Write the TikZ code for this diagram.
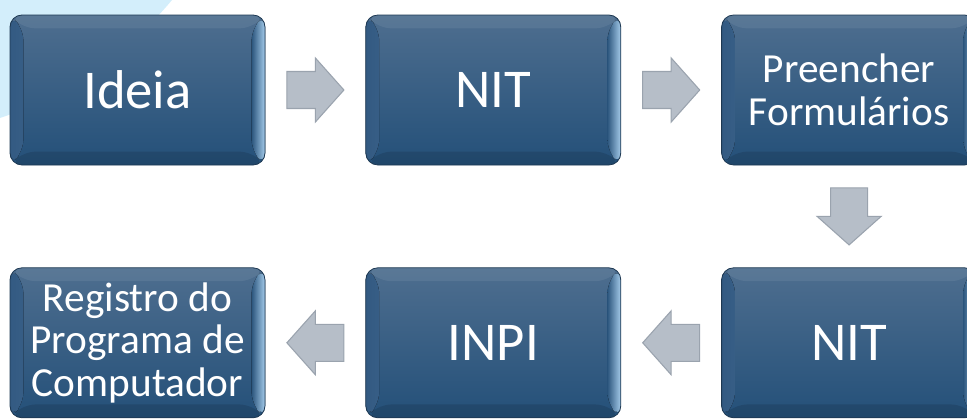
\documentclass[tikz,border=0pt]{standalone}
\usepackage{fontspec}
\setmainfont{Carlito}
\usetikzlibrary{positioning, calc}

\definecolor{boxtop}{HTML}{4E6E8F}
\definecolor{boxbot}{HTML}{245079}
\definecolor{boxline}{HTML}{1D3852}
\definecolor{bevdark}{HTML}{335A82}
\definecolor{bevmid}{HTML}{7DA3C8}
\definecolor{bevlight}{HTML}{A4CBEA}
\definecolor{arrowfill}{HTML}{B6BEC8}
\definecolor{arrowline}{HTML}{9AA3AE}
\definecolor{skyblob}{HTML}{D3EEFB}

\begin{document}
\begin{tikzpicture}[
    x=0.75pt, y=-0.75pt,
    stepbox/.style={rectangle, rounded corners=9pt, draw=boxline, line width=0.6pt,
                    top color=boxtop, bottom color=boxbot,
                    minimum width=191.25pt, minimum height=112.5pt, inner sep=0pt,
                    text=white, align=center, font=\fontsize{41}{44}\selectfont,
                    path picture={
                      \fill[left color=bevdark, right color=bevmid]
                        (path picture bounding box.north west)
                        -- ($(path picture bounding box.north west)+(10pt,-10pt)$)
                        -- ($(path picture bounding box.south west)+(10pt,10pt)$)
                        -- (path picture bounding box.south west) -- cycle;
                      \fill[left color=boxbot!80!boxtop, right color=bevlight]
                        (path picture bounding box.north east)
                        -- ($(path picture bounding box.north east)+(-10pt,-10pt)$)
                        -- ($(path picture bounding box.south east)+(-10pt,10pt)$)
                        -- (path picture bounding box.south east) -- cycle;
                      \fill[white, opacity=0.07]
                        (path picture bounding box.north west)
                        -- ($(path picture bounding box.north west)+(10pt,-10pt)$)
                        -- ($(path picture bounding box.north east)+(-10pt,-10pt)$)
                        -- (path picture bounding box.north east) -- cycle;
                      \fill[black, opacity=0.12]
                        (path picture bounding box.south west)
                        -- ($(path picture bounding box.south west)+(10pt,10pt)$)
                        -- ($(path picture bounding box.south east)+(-10pt,10pt)$)
                        -- (path picture bounding box.south east) -- cycle;
                    }},
    smalltext/.style={font=\fontsize{31}{32}\selectfont},
    node distance=76.5pt and 75pt,
    pics/flowarrow/.style={code={
        \draw[fill=arrowfill, draw=arrowline, line width=0.8pt, line join=miter]
          (-28.5,-18.5) -- (0,-18.5) -- (0,-32) -- (28.5,0) -- (0,32) -- (0,18.5)
          -- (-28.5,18.5) -- cycle;}}
]

\useasboundingbox (0,0) rectangle (967,418);

% Background
\fill[skyblob] (0,0) -- (172,0) .. controls (122,60) and (55,100) .. (0,118) -- cycle;

% Steps
\node[stepbox] (ideia) at (137.5,90) {Ideia};
\node[stepbox, right=of ideia] (nit) {NIT};
\node[stepbox, smalltext, right=of nit] (formularios) {Preencher\\Formulários};
\node[stepbox, below=of formularios] (nitret) {NIT};
\node[stepbox, left=of nitret] (inpi) {INPI};
\node[stepbox, smalltext, left=of inpi] (registro) {Registro do\\Programa de\\Computador};

% Arrows
\pic at ($(ideia.east)!0.5!(nit.west)$) {flowarrow};
\pic at ($(nit.east)!0.5!(formularios.west)$) {flowarrow};
\pic[rotate=-90] at ($(formularios.south)!0.5!(nitret.north)$) {flowarrow};
\pic[rotate=180] at ($(nitret.west)!0.5!(inpi.east)$) {flowarrow};
\pic[rotate=180] at ($(inpi.west)!0.5!(registro.east)$) {flowarrow};

\end{tikzpicture}
\end{document}
